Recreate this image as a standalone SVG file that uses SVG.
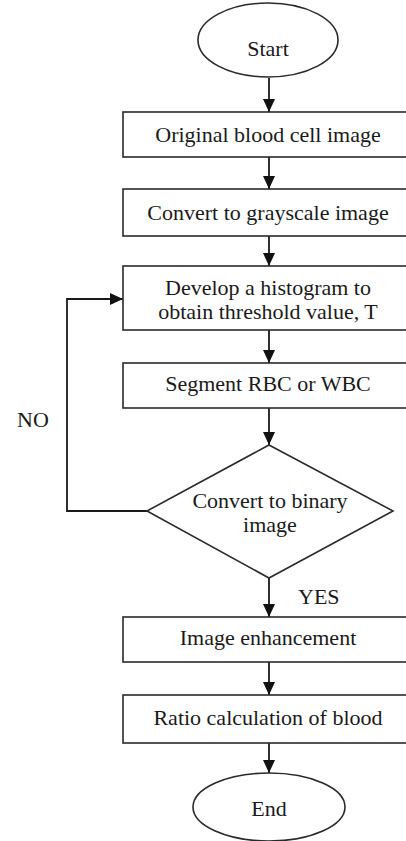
<svg xmlns="http://www.w3.org/2000/svg" width="406" height="841" viewBox="0 0 406 841">
  <style>
    .shape { fill: #ffffff; stroke: #2a2a2a; stroke-width: 1.6; }
    .link { fill: none; stroke: #1a1a1a; stroke-width: 1.8; }
    .label { font-family: "Liberation Serif", "Times New Roman", serif; font-size: 22px; fill: #1a1a1a; text-anchor: middle; }
    .side { font-family: "Liberation Serif", "Times New Roman", serif; font-size: 22px; fill: #1a1a1a; }
  </style>
  <defs>
    <marker id="arrow" markerUnits="userSpaceOnUse" markerWidth="13" markerHeight="12" refX="13" refY="6" orient="auto">
      <path d="M0,0 L13,6 L0,12 z" fill="#111111"/>
    </marker>
  </defs>

  <rect width="406" height="841" fill="#ffffff"/>

  <!-- connectors -->
  <g id="connectors">
    <line class="link" x1="269" y1="78" x2="269" y2="112" marker-end="url(#arrow)"/>
    <line class="link" x1="269" y1="157" x2="269" y2="189" marker-end="url(#arrow)"/>
    <line class="link" x1="269" y1="236" x2="269" y2="266" marker-end="url(#arrow)"/>
    <line class="link" x1="269" y1="330" x2="269" y2="363" marker-end="url(#arrow)"/>
    <line class="link" x1="269" y1="408" x2="269" y2="445" marker-end="url(#arrow)"/>
    <line class="link" x1="269" y1="578" x2="269" y2="617" marker-end="url(#arrow)"/>
    <line class="link" x1="269" y1="662" x2="269" y2="695" marker-end="url(#arrow)"/>
    <line class="link" x1="269" y1="743" x2="269" y2="773" marker-end="url(#arrow)"/>
    <polyline class="link" points="147,511 67,511 67,299 123,299" marker-end="url(#arrow)"/>
    <text class="side" x="17" y="427">NO</text>
    <text class="side" x="298" y="604">YES</text>
  </g>

  <g id="start">
    <ellipse class="shape" cx="268" cy="40" rx="70" ry="37"/>
    <text class="label" x="268" y="56">Start</text>
  </g>

  <g id="original">
    <rect class="shape" x="123" y="112" width="300" height="45"/>
    <text class="label" x="268" y="142">Original blood cell image</text>
  </g>

  <g id="grayscale">
    <rect class="shape" x="123" y="189" width="300" height="47"/>
    <text class="label" x="268" y="220">Convert to grayscale image</text>
  </g>

  <g id="histogram">
    <rect class="shape" x="123" y="266" width="300" height="64"/>
    <text class="label" x="268" y="295">Develop a histogram to</text>
    <text class="label" x="268" y="319">obtain threshold value, T</text>
  </g>

  <g id="segment">
    <rect class="shape" x="123" y="363" width="300" height="45"/>
    <text class="label" x="268" y="391">Segment RBC or WBC</text>
  </g>

  <g id="binary">
    <polygon class="shape" points="269,445 393,511 269,578 147,511"/>
    <text class="label" x="270" y="508">Convert to binary</text>
    <text class="label" x="270" y="532">image</text>
  </g>

  <g id="enhance">
    <rect class="shape" x="123" y="617" width="300" height="45"/>
    <text class="label" x="268" y="645">Image enhancement</text>
  </g>

  <g id="ratio">
    <rect class="shape" x="123" y="695" width="300" height="48"/>
    <text class="label" x="268" y="725">Ratio calculation of blood</text>
  </g>

  <g id="end">
    <ellipse class="shape" cx="269" cy="807" rx="76" ry="34"/>
    <text class="label" x="269" y="816">End</text>
  </g>
</svg>
